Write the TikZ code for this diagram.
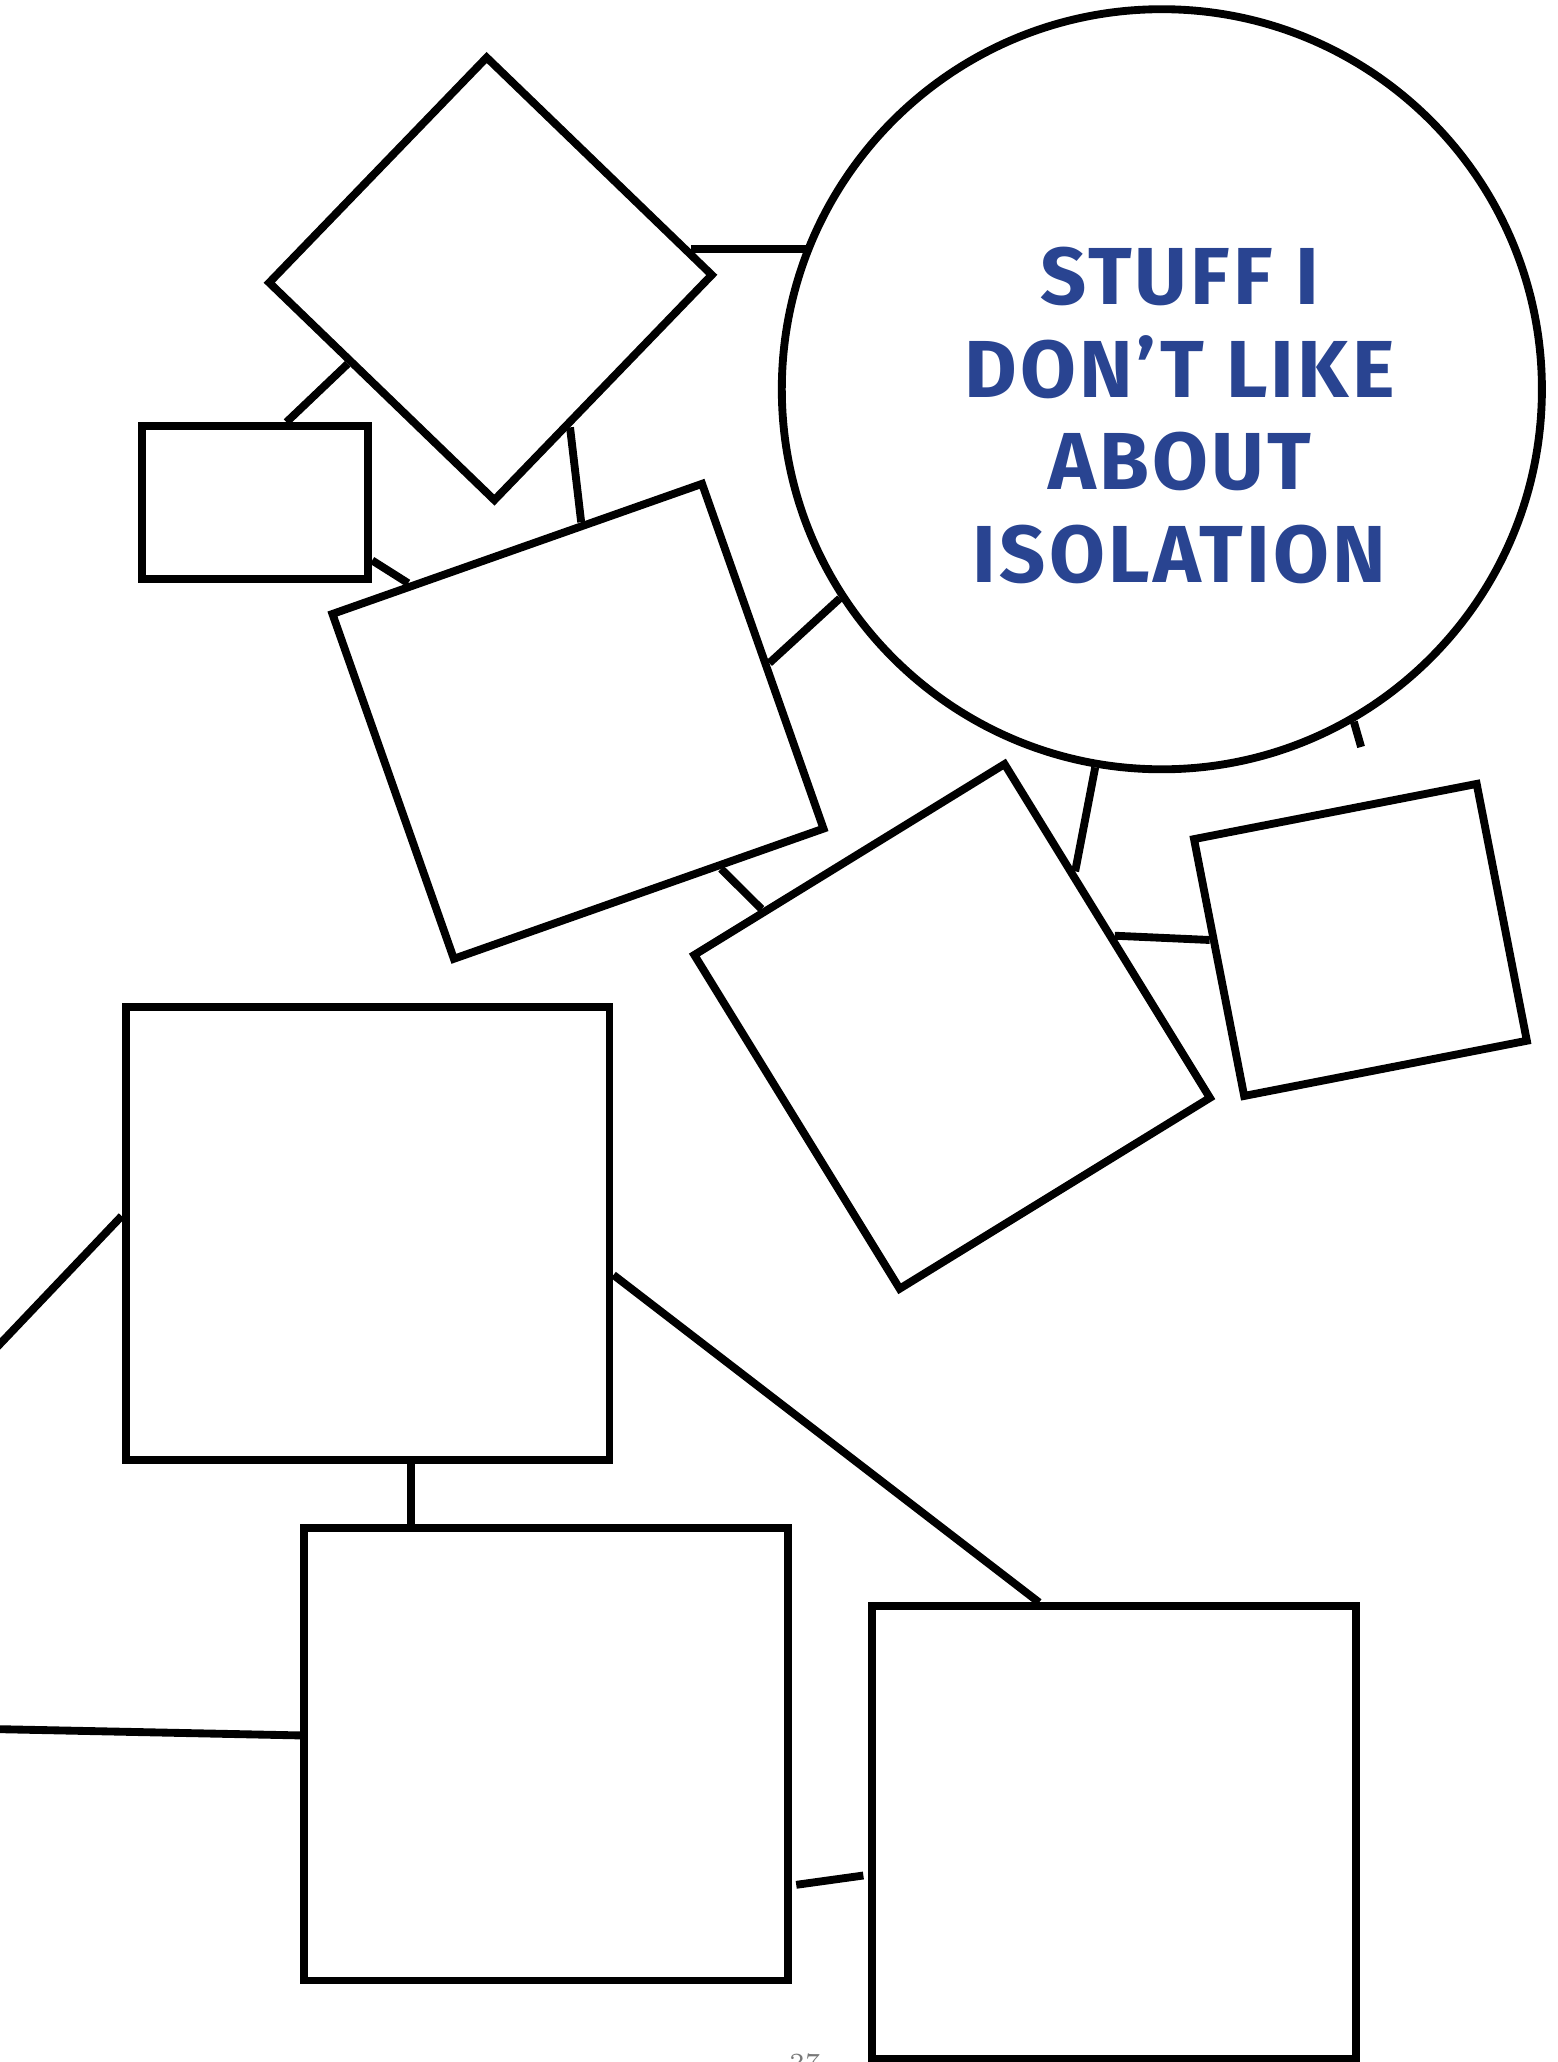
\documentclass[tikz,border=0pt]{standalone}
\usepackage{fontspec}
\newfontfamily\handfont[LetterSpace=4]{Fira Sans}
\usetikzlibrary{calc}
\definecolor{inkblue}{RGB}{41,68,145}
\definecolor{pagegrey}{RGB}{120,120,120}
\tikzset{box/.style={draw=black,line width=1.7pt,fill=white,inner sep=0pt},
  link/.style={line width=1.7pt}}

\begin{document}
\begin{tikzpicture}
    \useasboundingbox (0,0) rectangle (11.84,-15.68);
    \clip (0,0) rectangle (11.84,-15.68);
    % shapes
    \node[box,minimum size=2.38cm,rotate=46] (kite) at (3.73,-2.12) {};
    \node[box,minimum width=1.72cm,minimum height=1.16cm] (small) at (1.94,-3.82) {};
    \node[box,minimum width=2.98cm,minimum height=2.78cm,rotate=19.4] (tiltA) at (4.395,-5.485) {};
    \node[box,circle,minimum size=5.78cm] (bubble) at (8.835,-2.96) {};
    \node[box,minimum width=2.77cm,minimum height=2.98cm,rotate=31.6] (tiltB) at (7.24,-7.805) {};
    \node[box,minimum width=2.19cm,minimum height=1.99cm,rotate=11.05] (tiltC) at (10.345,-7.1475) {};
    \foreach \n/\x/\y in {bigA/2.795/-9.38, bigB/4.15/-13.34, bigC/8.47/-13.935}
      \node[box,minimum width=3.68cm,minimum height=3.44cm] (\n) at (\x,\y) {};
    \node[font=\handfont\bfseries\fontsize{17.5}{20}\selectfont,text=inkblue,align=center] (title)
      at (8.97,-3.16) {STUFF I\\DON’T LIKE\\ABOUT\\ISOLATION};
    \node[font=\fontsize{5}{6}\selectfont,text=pagegrey,anchor=north,inner sep=0pt] (folio)
      at (6.12,-15.61) {27};
    % links
    \draw[link] ($(kite.north east)!0.885!(kite.south east)$) coordinate (kiteR) -- (bubble.158.4 |- kiteR);
    \draw[link] ($(kite.north west)!0.364!(kite.south west)$) -- ($(small.north west)!0.634!(small.north east)$);
    \draw[link] ($(kite.south west)!0.339!(kite.south east)$) -- ($(tiltA.north west)!0.673!(tiltA.north east)$);
    \draw[link] ($(small.north east)!0.862!(small.south east)$) -- ($(tiltA.north west)!0.214!(tiltA.north east)$);
    \draw[link] ($(tiltA.north east)!0.523!(tiltA.south east)$) -- (bubble.213.6);
    \draw[link] ($(tiltA.south east)!0.285!(tiltA.south west)$) -- ($(tiltB.north west)!0.229!(tiltB.north east)$);
    \draw[link] (bubble.260.4) -- ($(tiltB.north east)!0.331!(tiltB.south east)$);
    \draw[link] ($(tiltB.north east)!0.52!(tiltB.south east)$) -- ($(tiltC.north west)!0.393!(tiltC.south west)$);
    \coordinate (stub) at (10.35,-5.68);
    \draw[link] (bubble.-60.3) -- (stub);
    \coordinate (offA) at (-0.2,-10.43);
    \draw[link] (offA) -- ($(bigA.north west)!0.462!(bigA.south west)$);
    \draw[link] ($(bigA.north east)!0.59!(bigA.south east)$) -- ($(bigC.north west)!0.348!(bigC.north east)$);
    \draw[link] ($(bigA.south west)!0.588!(bigA.south east)$) coordinate (drop) -- (drop |- bigB.north);
    \coordinate (offB) at (-0.2,-13.145);
    \draw[link] (offB) -- ($(bigB.north west)!0.459!(bigB.south west)$);
    \draw[link,shorten <=1pt,shorten >=1pt] ($(bigB.north east)!0.785!(bigB.south east)$) -- ($(bigC.north west)!0.592!(bigC.south west)$);
\end{tikzpicture}
\end{document}
